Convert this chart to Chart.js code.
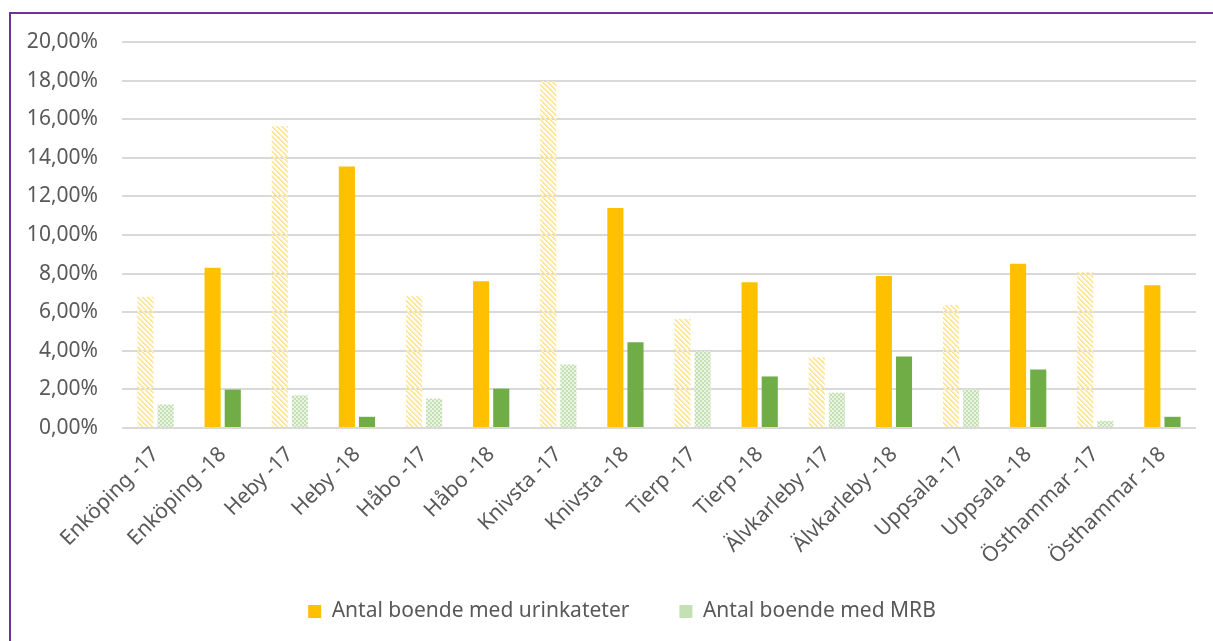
<!DOCTYPE html>
<html>
<head>
<meta charset="utf-8">
<script src="https://cdn.jsdelivr.net/npm/chart.js@4.4.1/dist/chart.umd.min.js"></script>
<style>
  html, body { margin: 0; padding: 0; background: #fff; }
  #wrap { position: relative; width: 1213px; height: 641px; overflow: hidden; }
  #frame {
    position: absolute; left: 9px; top: 12px; right: -5px; bottom: -5px;
    border-top: 2px solid #7030A0; border-left: 2px solid #7030A0;
    pointer-events: none;
  }
  canvas { position: absolute; left: 0; top: 0; }
</style>
</head>
<body>
<div id="wrap">
  <canvas id="boendeChart" width="1213" height="641"></canvas>
  <div id="frame"></div>
</div>
<script>
// Kommuner och år (x-axel)
const categories = [
  "Enköping -17", "Enköping -18", "Heby -17", "Heby -18",
  "Håbo -17", "Håbo -18", "Knivsta -17", "Knivsta -18",
  "Tierp -17", "Tierp -18", "Älvkarleby -17", "Älvkarleby -18",
  "Uppsala -17", "Uppsala -18", "Östhammar -17", "Östhammar -18"
];

// Andel boende med urinkateter (%)
const urinkateter = [6.8, 8.3, 15.65, 13.55, 6.82, 7.6, 17.98, 11.4, 5.65, 7.55, 3.66, 7.87, 6.37, 8.51, 8.07, 7.4];

// Andel boende med MRB (%)
const mrb = [1.22, 1.99, 1.69, 0.58, 1.52, 2.04, 3.29, 4.44, 3.98, 2.67, 1.83, 3.71, 2.01, 3.03, 0.37, 0.58];

const yTicks = [0, 2, 4, 6, 8, 10, 12, 14, 16, 18, 20];

const legendLabels = ["Antal boende med urinkateter", "Antal boende med MRB"];

const FONT = "'Noto Sans', sans-serif";
const TEXT = "#595959";

// Pixel pattern helper: paint(x, y) returns a colour or null
function makePattern(size, paint) {
    const c = document.createElement("canvas");
    c.width = size;
    c.height = size;
    const g = c.getContext("2d");
    for (let y = 0; y < size; y++) {
        for (let x = 0; x < size; x++) {
            const col = paint(x, y);
            if (col) {
                g.fillStyle = col;
                g.fillRect(x, y, 1, 1);
            }
        }
    }
    return g.createPattern(c, "repeat");
}

const ctx = document.getElementById("boendeChart").getContext("2d");

// diagonal stripes for 2017 (urinkateter)
const stripeYellow = makePattern(5, (x, y) => {
    const d = (x - y + 10) % 5;
    if (d === 0) return "#FFE38C";
    if (d === 1) return "#FFE9A6";
    if (d === 2) return "#FFF6DA";
    return null;
});

// small checks for 2017 (MRB)
const checkGreen = makePattern(4, (x, y) => {
    return (((x >> 1) + (y >> 1)) % 2 === 0) ? "#C5E0B4" : "#EAF4E3";
});

const urinColors = categories.map((c, i) => i % 2 === 0 ? stripeYellow : "#FFC000");
const mrbColors = categories.map((c, i) => i % 2 === 0 ? checkGreen : "#70AD47");

// tick labels may run outside their own scale box
const noLabelClip = () => undefined;

new Chart(ctx, {
    type: "bar",
    data: {
        labels: categories,
        datasets: [
            {
                label: legendLabels[0],
                data: urinkateter,
                backgroundColor: urinColors,
                borderWidth: 0,
                barPercentage: 0.8,
                categoryPercentage: 0.6
            },
            {
                label: legendLabels[1],
                data: mrb,
                backgroundColor: mrbColors,
                borderWidth: 0,
                barPercentage: 0.8,
                categoryPercentage: 0.6
            }
        ]
    },
    options: {
        responsive: false,
        animation: false,
        layout: { padding: { left: 48, right: 17, top: 42, bottom: 9 } },
        plugins: {
            tooltip: { enabled: false },
            legend: {
                position: "bottom",
                onClick: null,
                labels: {
                    color: TEXT,
                    font: { family: FONT, size: 21 },
                    boxWidth: 13,
                    boxHeight: 13,
                    padding: 50,
                    generateLabels: function () {
                        const swatch = ["#FFC000", "#C5E0B4"];
                        return legendLabels.map((t, i) => ({
                            text: t,
                            fillStyle: swatch[i],
                            strokeStyle: swatch[i],
                            lineWidth: 0,
                            fontColor: TEXT,
                            datasetIndex: i
                        }));
                    }
                }
            }
        },
        scales: {
            x: {
                grid: { display: false, drawTicks: false },
                border: { display: false },
                ticks: {
                    color: TEXT,
                    font: { family: FONT, size: 21 },
                    minRotation: 45,
                    maxRotation: 45,
                    padding: 14,
                    autoSkip: false
                },
                afterFit: function (scale) {
                    scale.height = 123;
                    scale._computeLabelArea = noLabelClip;
                }
            },
            y: {
                min: 0,
                max: 20,
                afterBuildTicks: function (scale) {
                    scale.ticks = yTicks.map(v => ({ value: v }));
                },
                grid: { color: "#D9D9D9", lineWidth: 2, drawTicks: false },
                border: { display: false },
                ticks: {
                    color: TEXT,
                    font: { family: FONT, size: 21 },
                    padding: 24,
                    callback: v => v.toFixed(2).replace(".", ",") + "%"
                },
                afterFit: function (scale) {
                    scale.width = 74;
                    scale._computeLabelArea = noLabelClip;
                }
            }
        }
    }
});
</script>
</body>
</html>
